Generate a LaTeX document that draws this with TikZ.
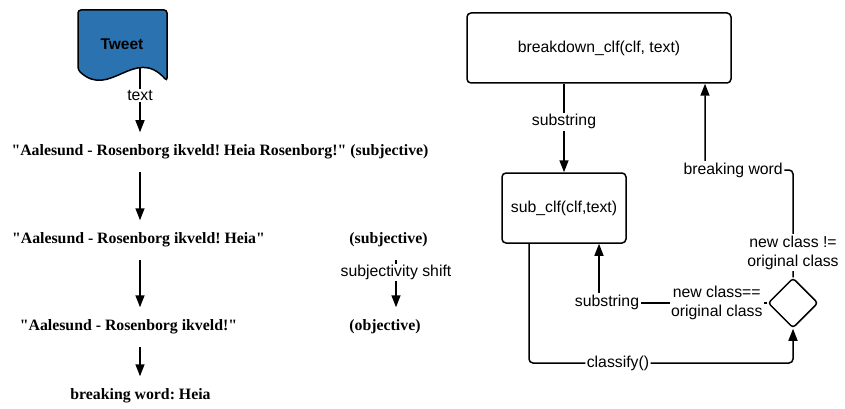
\documentclass[tikz,border=0pt]{standalone}
\usepackage{fontspec}
\setmainfont{Liberation Serif}[Ligatures=TeXOff]
\setsansfont{Liberation Sans}
\usetikzlibrary{arrows.meta,shapes.geometric,calc}
\definecolor{tweetblue}{HTML}{2B73B0}
\frenchspacing
\begin{document}
\begin{tikzpicture}[x=1pt,y=-1pt,
  line width=1.5pt,
  arr/.style={-{Triangle[length=12pt,width=9pt]}},
  quote/.style={font=\fontsize{15.8}{19}\selectfont\bfseries, inner sep=0pt, minimum height=38pt},
  lab/.style={font=\sffamily\fontsize{15.8}{19}\selectfont, fill=white, inner sep=1.5pt, align=center},
  box/.style={draw, rounded corners=4pt, font=\sffamily\fontsize{15.8}{19}\selectfont, inner sep=0pt},
]
\useasboundingbox (0,0) rectangle (845,409);

% ---------- left: breaking down a tweet ----------
\draw[fill=tweetblue, rounded corners=3pt]
  (167,81) .. controls (135,45) and (110,100) .. (78,70) -- (78,10) -- (167,10) -- cycle;
\node[font=\sffamily\bfseries\fontsize{15.5}{18}\selectfont] (tw) at (122,44) {Tweet};

\coordinate (cx) at (140,0);
\coordinate (twb) at (140,68);

\node[quote] (l1) at (220,152) {"Aalesund - Rosenborg ikveld! Heia Rosenborg!" (subjective)};
\node[quote] (l2) at (138.5,240) {"Aalesund - Rosenborg ikveld! Heia"};
\node[quote] (s2) at (388.5,240) {(subjective)};
\node[quote] (l3) at (128.5,327) {"Aalesund - Rosenborg ikveld!"};
\node[quote] (o3) at (385,327) {(objective)};
\node[quote] (l4) at (140.5,396) {breaking word: Heia};

\draw[arr] (twb) -- node[lab,pos=0.43] (tl) {text} (l1.north -| cx);
\draw[arr] (l1.south -| cx) -- (l2.north -| cx);
\draw[arr] (l2.south -| cx) -- (l3.north -| cx);
\draw[arr] (l3.south -| cx) -- (l4.north -| cx);

\coordinate (sx) at (396,0);
\draw[arr] (s2.south -| sx) -- node[lab,pos=0.27] (shl) {subjectivity shift} (o3.north -| sx);

% ---------- right: the algorithm ----------
\node[box, minimum width=264pt, minimum height=70pt] (bd) at (599,48) {breakdown\_clf(clf, text)};
\node[box, minimum width=124pt, minimum height=70pt] (sb) at (564,208) {sub\_clf(clf,text)};
\node[draw, diamond, minimum width=50pt, minimum height=50pt, inner sep=0pt, rounded corners=3pt] (dm) at (793,303) {};

\draw[arr] (sb |- bd.south) -- node[lab,pos=0.43] (ss1) {substring} (sb.north);

\coordinate (bwc) at (705,170);
\coordinate (trc) at (793,170);
\draw[arr, rounded corners=4pt] (dm.north)
  -- node[lab,pos=0.23] (neq) {new class !=\\original class} (trc)
  -- node[lab,pos=0.68] (bwl) {breaking word} (bwc)
  -- (bwc |- bd.south);

\coordinate (bl) at (529,363);
\coordinate (br) at (793,363);
\draw[arr, rounded corners=4pt] (sb.south -| bl) -- (bl)
  -- node[lab,pos=0.337] (cl) {classify()} (br) -- (dm.south);

\coordinate (sc) at (599,303);
\draw[arr] (dm.west) -- node[lab,pos=0.30] (eq) {new class==\\original class} (sc) -- (sc |- sb.south);
\node[lab] (ss2) at (607,302) {substring};
\end{tikzpicture}
\end{document}
